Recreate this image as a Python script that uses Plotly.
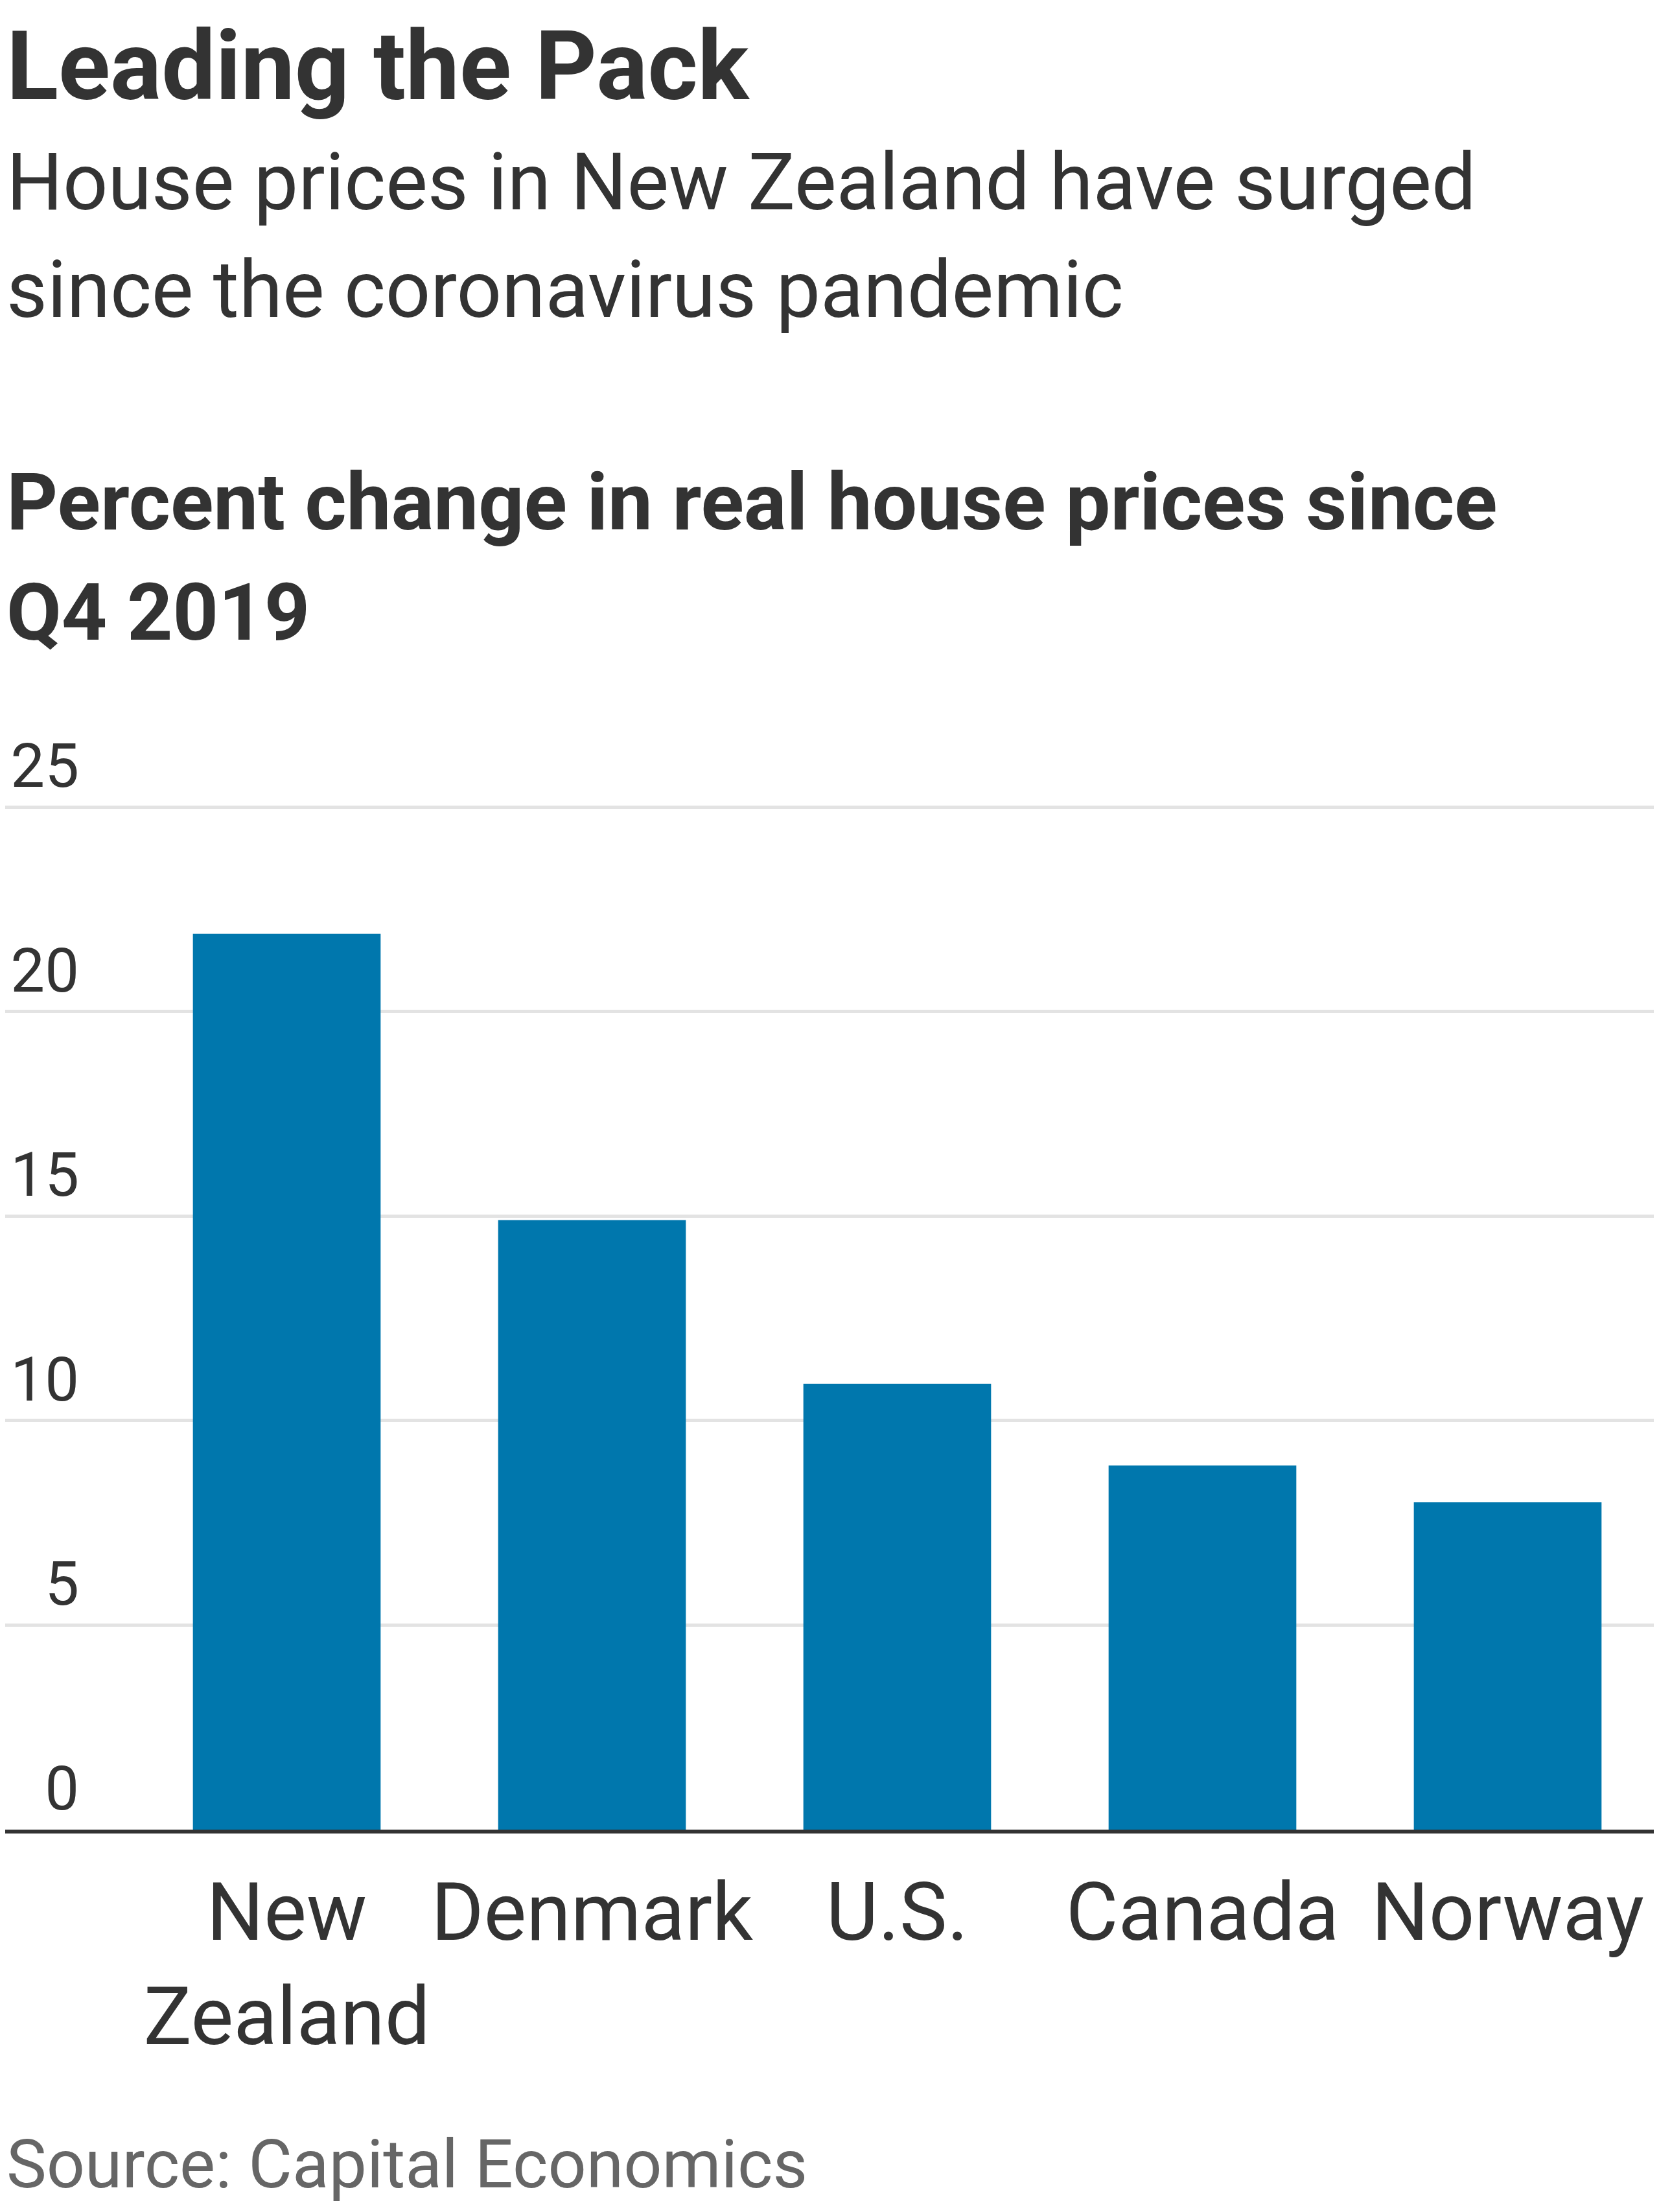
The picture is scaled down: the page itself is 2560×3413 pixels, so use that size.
#!/usr/bin/env python3
# -*- coding:utf-8 -*-

import plotly.graph_objects as go


COUNTRIES   = [ 'New<br>Zealand', 'Denmark', 'U.S.', 'Canada', 'Norway' ]
PCT_CHANGE  = [ 21.9, 14.9, 10.9, 8.9, 8.0 ]
Y_TICKS     = [ 0, 5, 10, 15, 20, 25 ]

TITLE       = 'Leading the Pack'
SUBTITLE    = [ 'House prices in New Zealand have surged', 'since the coronavirus pandemic' ]
CHART_LABEL = [ 'Percent change in real house prices since', 'Q4 2019' ]
SOURCE      = 'Source: Capital Economics'


# the page body adds an 8px margin, so the figure is a little smaller than the window
PAGE_PAD    = 8
FIG_W       = 2560 - 2 * PAGE_PAD
FIG_H       = 3413 - 2 * PAGE_PAD
Y_MAX       = 25.05
GRID25_PX   = 1245 - PAGE_PAD   # pixel row of the 25 gridline
PLOT_BOTTOM = 2823 - PAGE_PAD   # pixel row of the baseline
PX_PER_UNIT = (PLOT_BOTTOM - GRID25_PX) / 25.0
PLOT_TOP    = GRID25_PX - (Y_MAX - 25.0) * PX_PER_UNIT

FIRST_BAR_X = 442.5 - PAGE_PAD  # centre of the first bar, pixels
BAR_STEP    = 471.0             # pixels between bar centres

FONT        = 'Roboto, Lato, "Liberation Sans", sans-serif'
TEXT_COLOR  = '#333333'
BAR_COLOR   = '#0077ad'
GRID_COLOR  = '#e3e3e3'


def PaperY(px: float) -> float:
	# convert a pixel row (from the top of the figure) into paper units
	return (PLOT_BOTTOM - px) / (PLOT_BOTTOM - PLOT_TOP)


def TextLine(text: str, midPx: float, size: int, bold: bool = False, color: str = TEXT_COLOR) -> dict:
	return dict(
		text=text,
		xref='paper', yref='paper',
		x=0, y=PaperY(midPx),
		xanchor='left', yanchor='middle',
		showarrow=False,
		align='left',
		font=dict(family=FONT, size=size, color=color, weight=700 if bold else 400),
	)


def main() -> None:
	fig = go.Figure()
	fig.add_trace(
		go.Bar(
			x=COUNTRIES,
			y=PCT_CHANGE,
			marker=dict(color=BAR_COLOR, line=dict(width=0)),
			width=0.615,
			hoverinfo='skip',
		)
	)

	annotations = [
		TextLine(TITLE, 94, 148, bold=True),
		TextLine(SUBTITLE[0], 273, 122),
		TextLine(SUBTITLE[1], 439, 122),
		TextLine(CHART_LABEL[0], 767, 123, bold=True),
		TextLine(CHART_LABEL[1], 937, 123, bold=True),
		TextLine(SOURCE, 3332, 104, color='#666666'),
	]

	fig.update_layout(
		width=FIG_W,
		height=FIG_H,
		margin=dict(l=0, r=0, t=PLOT_TOP, b=FIG_H - PLOT_BOTTOM, pad=0),
		paper_bgcolor='white',
		plot_bgcolor='white',
		showlegend=False,
		annotations=annotations,
		font=dict(family=FONT, color=TEXT_COLOR),
	)
	fig.update_xaxes(
		type='category',
		range=[ -FIRST_BAR_X / BAR_STEP, (FIG_W - FIRST_BAR_X) / BAR_STEP ],
		showgrid=False,
		zeroline=False,
		showline=True,
		linecolor=TEXT_COLOR,
		linewidth=6,
		ticks='',
		tickangle=0,
		automargin=False,
		ticklabelstandoff=15,
		tickfont=dict(family=FONT, size=124, color=TEXT_COLOR),
		fixedrange=True,
	)
	fig.update_yaxes(
		range=[ 0, Y_MAX ],
		tickvals=Y_TICKS,
		anchor='free',
		position=114 / FIG_W,
		showgrid=True,
		gridcolor=GRID_COLOR,
		gridwidth=5,
		zeroline=False,
		showline=False,
		ticks='',
		automargin=False,
		ticklabelshift=-64,
		tickfont=dict(family=FONT, size=94, color=TEXT_COLOR),
		fixedrange=True,
	)

	fig.write_html('out.html', config=dict(displayModeBar=False))


if __name__ == '__main__':
	main()
